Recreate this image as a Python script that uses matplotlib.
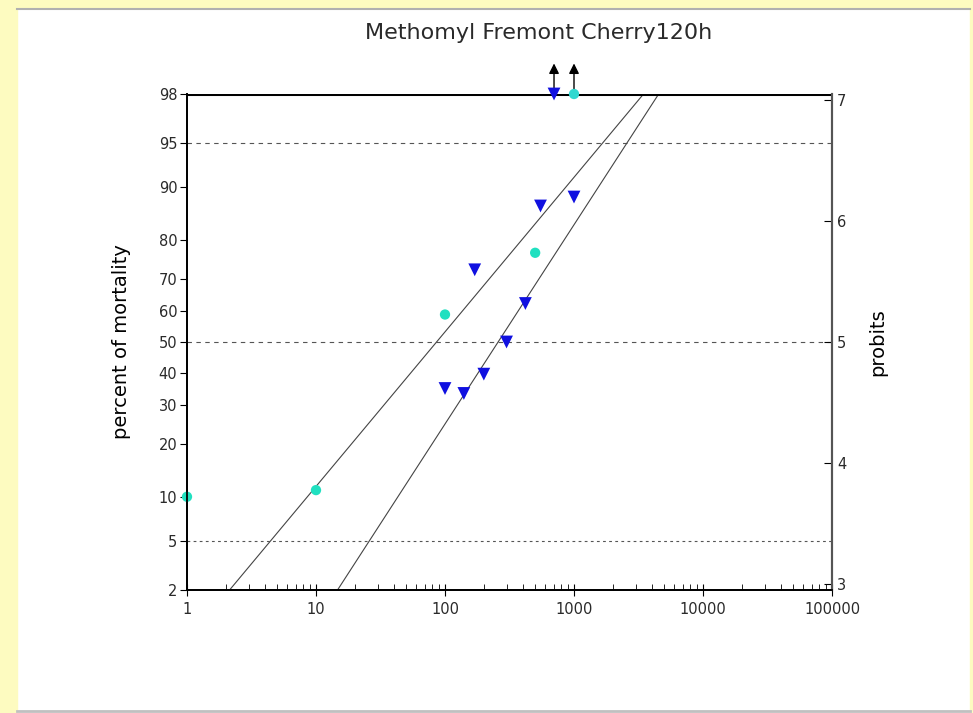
import numpy as np
import matplotlib
matplotlib.use('Agg')
import matplotlib.pyplot as plt
from matplotlib.patches import Rectangle
from statistics import NormalDist

plt.rcParams['font.family'] = ['DejaVu Sans']
plt.rcParams['text.color'] = '#2a2a2a'
plt.rcParams['xtick.labelcolor'] = '#2a2a2a'
plt.rcParams['ytick.labelcolor'] = '#2a2a2a'

# observed mortality (percent) at each concentration
cyan_x = [1, 10, 100, 500]
cyan_pct = [10, 11, 59, 77]
blue_x = [100, 140, 200, 300, 420, 550, 1000, 170]
blue_pct = [35, 33.5, 39.5, 50, 62.5, 87, 88.5, 72.5]
# points at 100% mortality, drawn on the top line with an arrow
top_cyan_x = [1000]
top_blue_x = [700]

# fitted probit lines: LC50 and slope (probits per decade)
fit_lc50 = [86, 258]
fit_slope = [1.28, 1.65]

pct_ticks = [2, 5, 10, 20, 30, 40, 50, 60, 70, 80, 90, 95, 98]
probit_ticks = [3, 4, 5, 6, 7]
x_ticks = [1, 10, 100, 1000, 10000, 100000]
dashed_pct = [95, 50]
dotted_pct = [5]


def probit(p):
    if np.ndim(p) == 0:
        return 5 + NormalDist().inv_cdf(p / 100.0)
    return np.array([5 + NormalDist().inv_cdf(v / 100.0) for v in p])


fig = plt.figure(figsize=(9.73, 7.13), dpi=100)

# yellow page border and grey edges
fig.add_artist(Rectangle((0, 0), 17/973, 1, transform=fig.transFigure,
                         color='#fdfbc0', zorder=-5))
fig.add_artist(Rectangle((0, 1 - 8/713), 1, 8/713, transform=fig.transFigure,
                         color='#fdfbc0', zorder=-5))
fig.add_artist(Rectangle((970/973, 0), 3/973, 1, transform=fig.transFigure,
                         color='#fdfbc0', zorder=-5))
fig.add_artist(plt.Line2D([17/973, 970/973], [1 - 9/713, 1 - 9/713],
                          transform=fig.transFigure, color='#b0b0b0', lw=1.5))
fig.add_artist(plt.Line2D([17/973, 970/973], [1 - 711/713, 1 - 711/713],
                          transform=fig.transFigure, color='#c0c0c0', lw=2))

ax = fig.add_axes([187/973, 1 - 590/713, 645/973, 496/713])
ymin, ymax = probit(2.0), probit(98.0)
ax.set_xscale('log')
ax.set_xlim(1, 100000)
ax.set_ylim(ymin, ymax)

# reference lines
ax.axhline(ymax, color='black', lw=2.2, zorder=3)
for p in dashed_pct:
    ax.axhline(probit(p), color='#555555', lw=0.8, ls=(0, (4, 4)))
for p in dotted_pct:
    ax.axhline(probit(p), color='#555555', lw=0.8, ls=(0, (2.5, 3)))

# probit regression lines
xx = np.logspace(0, 5, 200)
for lc, b in zip(fit_lc50, fit_slope):
    ax.plot(xx, 5 + b * (np.log10(xx) - np.log10(lc)), color='#444444', lw=0.8)

ax.scatter(cyan_x, probit(cyan_pct), marker='o', s=55, color='#20e0c0',
           edgecolors='none', zorder=4, clip_on=False)
ax.scatter(blue_x, probit(blue_pct), marker='v', s=85, color='#1010e0',
           edgecolors='none', zorder=4)
ax.scatter(top_cyan_x, [ymax] * len(top_cyan_x), marker='o', s=55, color='#30d8d0',
           edgecolors='none', zorder=5, clip_on=False)
ax.scatter(top_blue_x, [ymax] * len(top_blue_x), marker='v', s=85, color='#1010e0',
           edgecolors='none', zorder=5, clip_on=False)
for x in top_cyan_x + top_blue_x:
    ax.annotate('', xy=(x, ymax), xycoords='data', xytext=(0, 24),
                textcoords='offset points',
                arrowprops=dict(arrowstyle='<|-', color='black', lw=1,
                                mutation_scale=15), annotation_clip=False)

ax.set_yticks(probit(pct_ticks))
ax.set_yticklabels([str(p) for p in pct_ticks])
ax.set_xticks(x_ticks)
ax.set_xticklabels([str(v) for v in x_ticks])
ax.tick_params(axis='x', which='major', direction='inout', length=8, labelsize=10.5,
               pad=5)
ax.tick_params(axis='x', which='minor', direction='in', length=4)
ax.tick_params(axis='y', direction='out', length=5, labelsize=10.5, pad=2)
ax.set_ylabel('percent of mortality', fontsize=14, labelpad=20)

ax2 = ax.twinx()
ax2.set_ylim(ymin, ymax)
ax2.set_yticks(probit_ticks)
ax2.tick_params(axis='y', direction='in', length=6, labelsize=10.5)
ax2.set_ylabel('probits', fontsize=14, labelpad=16)

for a in (ax, ax2):
    a.spines['top'].set_visible(False)
    a.spines['left'].set_linewidth(1.3)
    a.spines['bottom'].set_linewidth(1.3)
    a.spines['right'].set_linewidth(1.5)
    a.spines['right'].set_color('#555555')

fig.text(539/973, 1 - 33/713, 'Methomyl Fremont Cherry120h', ha='center',
         va='center', fontsize=16)

fig.savefig('out.png', dpi=100)
